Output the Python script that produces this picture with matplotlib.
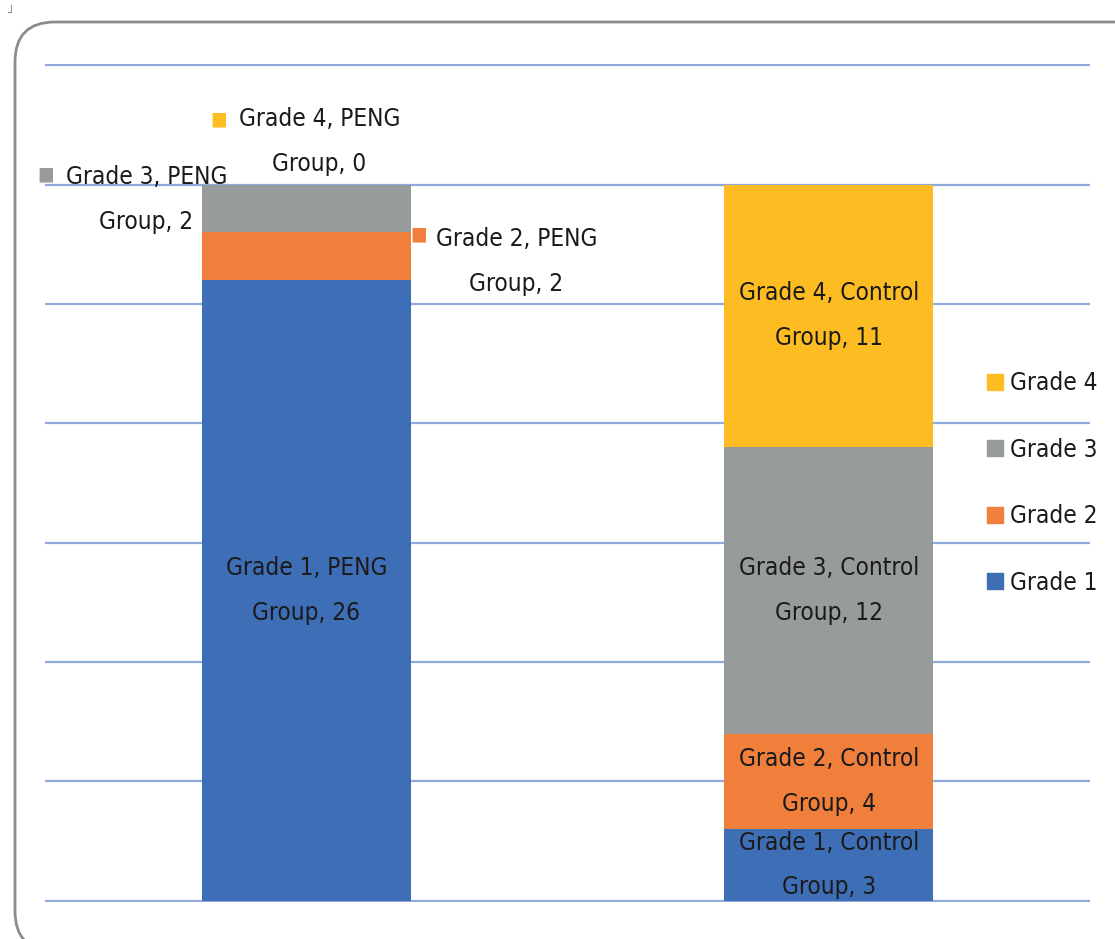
import matplotlib.pyplot as plt
import numpy as np
from matplotlib.patches import FancyBboxPatch, Patch

plt.rcParams['font.family'] = ['DejaVu Sans']
plt.rcParams['font.stretch'] = 'condensed'

groups = ['PENG Group', 'Control Group']
grades = ['Grade 1', 'Grade 2', 'Grade 3', 'Grade 4']
grade1 = [26, 3]
grade2 = [2, 4]
grade3 = [2, 12]
grade4 = [0, 11]
colors = ['#3E6FB6', '#EF7F3B', '#989B9B', '#FDBD22']

series = [grade1, grade2, grade3, grade4]

fig = plt.figure(figsize=(11.15, 9.39), dpi=100)
ax = fig.add_axes([45 / 1115, 37 / 939, 1045 / 1115, 838 / 939])

x = np.arange(len(groups))
bottom = np.zeros(len(groups))
segs = []
for vals, c in zip(series, colors):
    ax.bar(x, vals, width=0.4, bottom=bottom, color=c, zorder=2)
    segs.append((bottom.copy(), np.array(vals)))
    bottom += vals

ax.set_xlim(-0.5, 1.5)
ax.set_ylim(-0.05, 35.05)
ax.set_yticks(np.arange(0, 36, 5))
ax.yaxis.grid(True, color='#8FAADC', lw=1.6, zorder=0)
ax.tick_params(left=False, bottom=False, labelleft=False, labelbottom=False)
for s in ax.spines.values():
    s.set_visible(False)

fs = 17.5
ls = 2.1
tc = '#1a1a1a'

def label(i, g):
    short = groups[i].split()[0]
    return f'{grades[g]}, {short}\nGroup, {series[g][i]}'

# labels inside bars
inside = [(0, 0), (1, 0), (1, 1), (1, 2), (1, 3)]
for i, g in inside:
    b, v = segs[g]
    ax.text(x[i], b[i] + v[i] / 2, label(i, g), ha='center', va='center',
            fontsize=fs, linespacing=ls, color=tc, zorder=3)

# labels outside the PENG bar: (grade, text offset px, marker offset px)
outside = [(1, (210, -5), (112, 22)),
           (2, (-160, 9), (-261, 34)),
           (3, (13, 43), (-88, 66))]
for g, toff, moff in outside:
    b, v = segs[g]
    y = b[0] + v[0] / 2
    ax.annotate(label(0, g), (x[0], y), xytext=toff, textcoords='offset pixels',
                ha='center', va='center', fontsize=fs, linespacing=ls,
                color=tc, zorder=3, annotation_clip=False)
    ax.annotate('■', (x[0], y), xytext=moff, textcoords='offset pixels',
                ha='center', va='center', fontsize=14, color=colors[g],
                zorder=3, annotation_clip=False)

handles = [Patch(color=colors[g], label=grades[g]) for g in range(3, -1, -1)]
fig.legend(handles=handles, loc='center left',
           bbox_to_anchor=(975 / 1115, 1 - 483 / 939), frameon=False,
           fontsize=fs, labelspacing=1.75, handlelength=0.65,
           handleheight=0.65, handletextpad=0.3, borderpad=0, labelcolor=tc)

border = FancyBboxPatch((0.15, -0.12), 11.4, 9.29,
                        boxstyle='round,pad=0,rounding_size=0.4',
                        transform=fig.dpi_scale_trans, fill=False,
                        edgecolor='#8c8c8c', lw=2, clip_on=False)
fig.patches.append(border)
fig.text(0.006, 0.993, '┘', ha='left', va='top', fontsize=9,
         color='#888888')

fig.savefig('out.png', dpi=100)
